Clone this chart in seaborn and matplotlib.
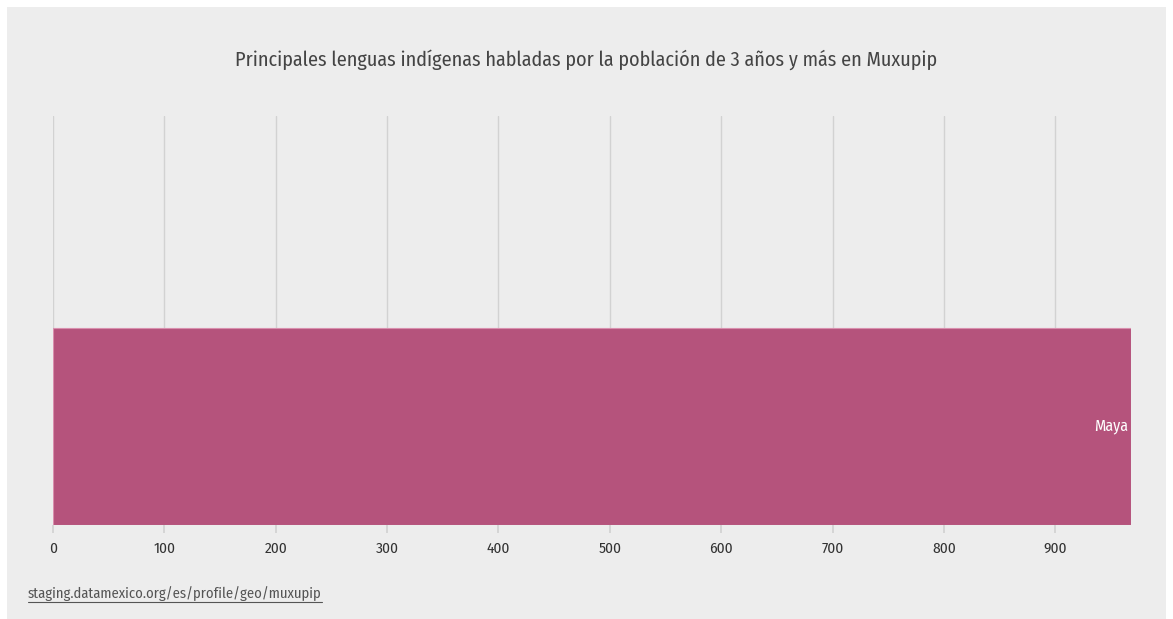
import numpy as np
import pandas as pd
import seaborn as sns
import matplotlib.pyplot as plt
from matplotlib.patches import Rectangle

# Data
LANGUAGES = ["Maya"]
SPEAKERS = [968]
X_TICKS = [0, 100, 200, 300, 400, 500, 600, 700, 800, 900]

TITLE = "Principales lenguas indígenas habladas por la población de 3 años y más en Muxupip"
SOURCE = "staging.datamexico.org/es/profile/geo/muxupip"

BG = "#ededed"
BAR_COLOR = "#b5537c"
GRID = "#d2d2d2"

sns.set_theme(style="white")
plt.rcParams["font.family"] = ["Fira Sans Condensed", "Barlow Semi Condensed",
                               "DejaVu Sans"]

df = pd.DataFrame({"lengua": LANGUAGES, "hablantes": SPEAKERS})

W, H = 1173, 619
fig = plt.figure(figsize=(W / 100, H / 100), dpi=100, facecolor="white")
fig.patches.append(Rectangle((7 / W, 0), (1166 - 7) / W, (619 - 7) / H,
                             transform=fig.transFigure, facecolor=BG,
                             edgecolor="none", zorder=-10))

# axes box in pixels: left 53, right 1131, top 116, bottom 525
ax = fig.add_axes([53 / W, 1 - 525 / H, (1131 - 53) / W, (525 - 116) / H])
ax.set_facecolor(BG)

sns.barplot(data=df, x="hablantes", y="lengua", orient="h", color=BAR_COLOR,
            saturation=1, width=1.0, edgecolor="#d98fae", linewidth=0.8,
            ax=ax, zorder=3)

ax.set_xlim(0, SPEAKERS[0])
# bar sits on the bottom of the axes, empty band above it
ax.set_ylim(-0.5, 1.576)

ax.set_xticks(X_TICKS)
ax.set_xticklabels([str(t) for t in X_TICKS], fontsize=11, color="#333333")
ax.xaxis.grid(True, color=GRID, linewidth=1, zorder=0)
ax.yaxis.grid(False)
ax.set_yticks([])
ax.tick_params(axis="x", length=6, color=GRID, pad=6, bottom=True)
for s in ax.spines.values():
    s.set_visible(False)
ax.set_xlabel("")
ax.set_ylabel("")

for i, (lang, val) in enumerate(zip(LANGUAGES, SPEAKERS)):
    ax.text(val - 3, i, lang, ha="right", va="center", color="white",
            fontsize=11.5, zorder=4)

fig.text(0.5, 1 - 60 / H, TITLE, ha="center", va="center",
         fontsize=14.5, color="#444444")
src = fig.text(28 / W, 1 - 594 / H, SOURCE, ha="left", va="center",
               fontsize=10.5, color="#555555")

fig.canvas.draw()
bb = src.get_window_extent()
fig.add_artist(plt.Line2D([bb.x0 / W, bb.x1 / W],
                          [(bb.y0 - 1) / H, (bb.y0 - 1) / H],
                          transform=fig.transFigure, color="#555555",
                          linewidth=0.8))

fig.savefig("out.png", dpi=100, facecolor="white")
